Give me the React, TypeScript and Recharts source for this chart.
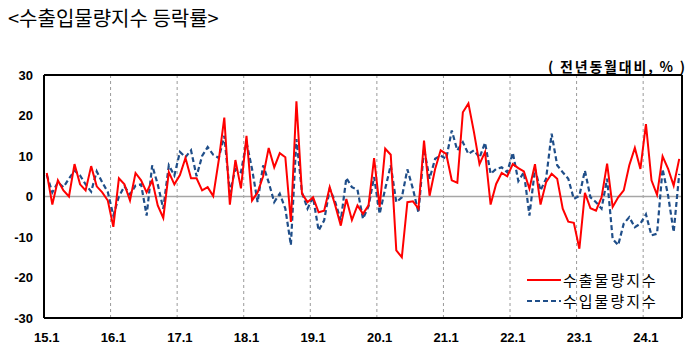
import React from 'react';
import { LineChart, Line, XAxis, YAxis, ReferenceLine } from 'recharts';

// 2015.01 ~ 2024.07, 월별
const years = [15, 16, 17, 18, 19, 20, 21, 22, 23, 24];
const yearTicks = ['15.1', '16.1', '17.1', '18.1', '19.1', '20.1', '21.1', '22.1', '23.1', '24.1'];
const yTicks = [-30, -20, -10, 0, 10, 20, 30];

// 수출물량지수 등락률 (%)
const exportVol = [
  5.8, -2, 4, 1.5, 0, 8, 3, 1.5, 7.5, 2.5, 1, -1,
  -7.5, 4.5, 3, -1, 5.8, 4, 1, 4, -2.2, -5.3, 6, 3,
  5.3, 9.5, 4.5, 4.5, 1.5, 2.3, 0.1, 9, 19.5, -2, 9, 2,
  15, -1, 1, 5, 12, 7.2, 10.7, 9.7, -6.3, 23.5, 0.7, -1.4,
  -0.2, -3.9, -3.5, 2.3, -2.2, -7.2, -0.6, -5.8, -2.2, -4.3, -2.2, 9.5,
  -2.6, 11.8, 10.3, -13.3, -15, -1.4, -1.2, -3, 13.8, 0.2, 6.8, 11.4,
  10.5, 4, 3.4, 20.8, 23, 15.9, 8, 11, -2, 3.1, 5.8, 5,
  8, 7, 6.2, 1.9, 8, -2, 3.5, 5.6, 4.4, -3, -6.2, -6.5,
  -12.9, 0.9, -2.9, -3.5, -0.2, 8.1, -2.6, -0.2, 1.5, 7.7, 12, 6.8,
  17.9, 4, 0.4, 9.9, 6.8, 2.7, 9.3,
];

// 수입물량지수 등락률 (%)
const importVol = [
  5.3, 1, 3.5, 2.3, 4.4, 6.4, 5.2, 3, 1.2, 6.2, 3.5, 1.1,
  -4.7, 0, 2.5, 0.5, 2.7, 3, -4.7, 7.7, 3, -3, 7.7, 5.2,
  11, 9.7, 11.4, 5, 10, 12.2, 10.3, 9.5, 15, 1, 6.8, 6,
  13.4, 6.8, -1.4, 7.7, 3.5, -1.4, 0.7, -3, -12, 14.2, 1, -3,
  -0.2, -8.4, -5.9, 1.9, -1.4, -5.9, 4.6, 2.3, 1.7, -5.5, -2.4, 4.8,
  -4.3, 1.9, 7.7, -1.4, -0.2, 6.7, 1.9, -4, 11.8, 4.4, 9.3, 10.1,
  9.3, 16.3, 11.4, 13.4, 10.5, 11.4, 9.6, 13.3, 5.6, 6.8, 7.2, 6,
  10.8, 3.8, 6, -4.7, 6.8, 1.5, 4.4, 15.5, 7.7, 6, 4.4, -0.6,
  0.2, 6.4, -0.2, -1.4, -3, 4.4, -10.5, -12, -6.7, -5.1, -7.6, -6.7,
  -4.4, -9.6, -9.2, 6.8, 0.2, -8.8, 5.6,
];

const months: string[] = [];
years.forEach((y) => {
  for (let m = 1; m <= 12; m++) months.push(`${y}.${m}`);
});

const data = exportVol.map((v, i) => ({
  idx: i,
  month: months[i],
  exp: v,
  imp: importVol[i],
}));

const N = data.length;
const xMin = -0.5;
const xMax = N - 0.5;
const tickIdx = yearTicks.map((_, i) => i * 12);
const yearBounds = yearTicks.slice(1).map((_, i) => i * 12 + 11.5);

const KR = '"Noto Sans CJK KR", "Noto Sans", sans-serif';
const NUM = '"Liberation Sans", Arial, sans-serif';

const RED = '#ff0000';
const BLUE = '#1f4e89';
const FRAME = { stroke: '#000', strokeWidth: 2 };

function LegendBox() {
  const rows = [
    { label: '수출물량지수', color: RED, dash: undefined },
    { label: '수입물량지수', color: BLUE, dash: '5 3' },
  ];
  return (
    <div style={{ fontFamily: KR, fontSize: 15, color: '#000', letterSpacing: 2 }}>
      {rows.map((r) => (
        <div key={r.label} style={{ display: 'flex', alignItems: 'center', height: 21, lineHeight: '21px' }}>
          <svg width={36} height={10}>
            <line x1={0} y1={5} x2={34} y2={5} stroke={r.color} strokeWidth={2} strokeDasharray={r.dash} />
          </svg>
          <span>{r.label}</span>
        </div>
      ))}
    </div>
  );
}

export default function App() {
  return (
    <div style={{ position: 'absolute', left: 0, top: 0, width: 700, height: 364, background: '#fff' }}>
      <div
        style={{
          position: 'absolute',
          left: 8,
          top: 6,
          fontFamily: KR,
          fontSize: 20,
          lineHeight: '24px',
          color: '#000',
          whiteSpace: 'nowrap',
        }}
      >
        &lt;수출입물량지수 등락률&gt;
      </div>
      <div
        style={{
          position: 'absolute',
          left: 548,
          top: 56,
          fontFamily: KR,
          fontSize: 14,
          lineHeight: '20px',
          letterSpacing: 1.8,
          fontWeight: 700,
          color: '#000',
          whiteSpace: 'nowrap',
        }}
      >
        ( 전년동월대비, % )
      </div>
      <LineChart
        width={700}
        height={364}
        data={data}
        margin={{ top: 75, right: 18, bottom: 16, left: 4 }}
      >
        <XAxis
          dataKey="idx"
          type="number"
          domain={[xMin, xMax]}
          ticks={tickIdx}
          tickFormatter={(v: number) => yearTicks[v / 12]}
          interval={0}
          axisLine={FRAME}
          tickLine={false}
          tickMargin={9}
          height={30}
          tick={{ fontFamily: NUM, fontSize: 13, fontWeight: 700, fill: '#000' }}
        />
        <YAxis
          domain={[-30, 30]}
          ticks={yTicks}
          interval={0}
          axisLine={FRAME}
          tickLine={false}
          tickMargin={5}
          width={40}
          tick={{ fontFamily: NUM, fontSize: 13, fontWeight: 700, fill: '#000' }}
        />
        {yearBounds.map((x) => (
          <ReferenceLine key={x} x={x} stroke="#9a9a9a" strokeDasharray="3 3" strokeWidth={1} />
        ))}
        <ReferenceLine y={0} stroke="#a6a6a6" strokeWidth={1.5} />
        <Line
          type="linear"
          dataKey="imp"
          name="수입물량지수"
          stroke={BLUE}
          strokeWidth={2.2}
          strokeDasharray="5 3"
          dot={false}
          isAnimationActive={false}
        />
        <Line
          type="linear"
          dataKey="exp"
          name="수출물량지수"
          stroke={RED}
          strokeWidth={2}
          dot={false}
          isAnimationActive={false}
        />
        {/* plot frame: top and right edges */}
        <ReferenceLine y={30} stroke="#000" strokeWidth={2} />
        <ReferenceLine x={xMax} stroke="#000" strokeWidth={2} />
      </LineChart>
      <div style={{ position: 'absolute', left: 527, top: 269 }}>
        <LegendBox />
      </div>
    </div>
  );
}
